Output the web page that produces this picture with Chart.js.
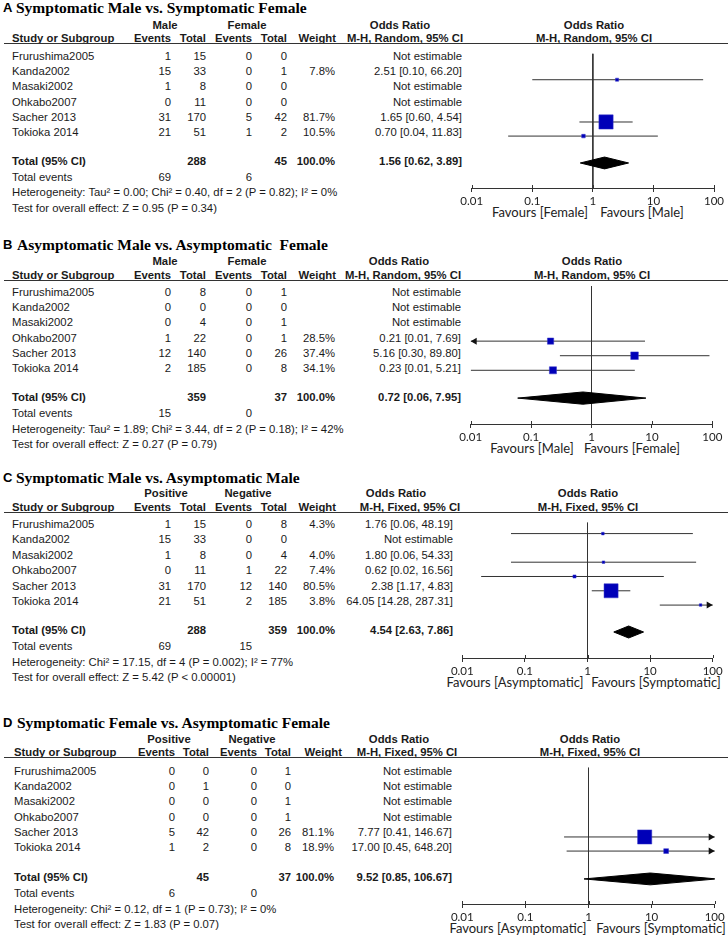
<!DOCTYPE html>
<html>
<head>
<meta charset="utf-8">
<script src="https://cdn.jsdelivr.net/npm/chart.js@4.4.0/dist/chart.umd.min.js"></script>
<style>
  body { margin: 0; background: #fff; }
  #page { position: relative; width: 728px; height: 938px; overflow: hidden;
          font-family: "Liberation Sans", Arial, sans-serif; font-size: 11.3px; color: #1a1a1a; }
  .t { position: absolute; white-space: pre; line-height: 14px; }
  .b { font-weight: bold; }
  .title { font-family: "Liberation Serif", serif; font-weight: bold; font-size: 15.5px; color: #000; line-height: 18px; }
  .letter { font-weight: bold; font-size: 13px; color: #000; }
  .fav { font-family: Lato, sans-serif; font-size: 13px; color: #222; }
  .hline { position: absolute; height: 1px; background: #333; }
  canvas { position: absolute; }
</style>
</head>
<body>
<div id="page"></div>
<script>
// ---- data ----
const studies = ['Frurushima2005', 'Kanda2002', 'Masaki2002', 'Ohkabo2007', 'Sacher 2013', 'Tokioka 2014'];
const tickValues = [0.01, 0.1, 1, 10, 100];
const tickLabels = ['0.01', '0.1', '1', '10', '100'];

// A: symptomatic male vs symptomatic female
const eventsA1 = [1, 15, 1, 0, 31, 21];
const totalA1  = [15, 33, 8, 11, 170, 51];
const eventsA2 = [0, 0, 0, 0, 5, 1];
const totalA2  = [0, 1, 0, 0, 42, 2];
const weightA  = [null, 7.8, null, null, 81.7, 10.5];
const orA      = [null, 2.51, null, null, 1.65, 0.70];
const loA      = [null, 0.10, null, null, 0.60, 0.04];
const hiA      = [null, 66.20, null, null, 4.54, 11.83];
const arrowsA  = [null, null, null, null, null, null];
const pooledA  = [1.56, 0.62, 3.89];

// B: asymptomatic male vs asymptomatic female
const eventsB1 = [0, 0, 0, 1, 12, 2];
const totalB1  = [8, 0, 4, 22, 140, 185];
const eventsB2 = [0, 0, 0, 0, 0, 0];
const totalB2  = [1, 0, 1, 1, 26, 8];
const weightB  = [null, null, null, 28.5, 37.4, 34.1];
const orB      = [null, null, null, 0.21, 5.16, 0.23];
const loB      = [null, null, null, 0.01, 0.30, 0.01];
const hiB      = [null, null, null, 7.69, 89.80, 5.21];
const arrowsB  = [null, null, null, 'left', null, null];
const pooledB  = [0.72, 0.06, 7.95];

// C: symptomatic male vs asymptomatic male
const eventsC1 = [1, 15, 1, 0, 31, 21];
const totalC1  = [15, 33, 8, 11, 170, 51];
const eventsC2 = [0, 0, 0, 1, 12, 2];
const totalC2  = [8, 0, 4, 22, 140, 185];
const weightC  = [4.3, null, 4.0, 7.4, 80.5, 3.8];
const orC      = [1.76, null, 1.80, 0.62, 2.38, 64.05];
const loC      = [0.06, null, 0.06, 0.02, 1.17, 14.28];
const hiC      = [48.19, null, 54.33, 16.56, 4.83, 287.31];
const arrowsC  = [null, null, null, null, null, 'right'];
const pooledC  = [4.54, 2.63, 7.86];

// D: symptomatic female vs asymptomatic female
const eventsD1 = [0, 0, 0, 0, 5, 1];
const totalD1  = [0, 1, 0, 0, 42, 2];
const eventsD2 = [0, 0, 0, 0, 0, 0];
const totalD2  = [1, 0, 1, 1, 26, 8];
const weightD  = [null, null, null, null, 81.1, 18.9];
const orD      = [null, null, null, null, 7.77, 17.00];
const loD      = [null, null, null, null, 0.41, 0.45];
const hiD      = [null, null, null, null, 146.67, 648.20];
const arrowsD  = [null, null, null, null, 'right', 'right'];
const pooledD  = [9.52, 0.85, 106.67];

const panels = [
  { letter: 'A', title: 'Symptomatic Male vs. Symptomatic Female', groups: ['Male', 'Female'],
    method: 'M-H, Random, 95% CI', favours: ['Favours [Female]', 'Favours [Male]'],
    ev1: eventsA1, tot1: totalA1, ev2: eventsA2, tot2: totalA2, w: weightA, or: orA, lo: loA, hi: hiA, arrows: arrowsA, pooled: pooledA,
    het: 'Heterogeneity: Tau² = 0.00; Chi² = 0.40, df = 2 (P = 0.82); I² = 0%',
    test: 'Test for overall effect: Z = 0.95 (P = 0.34)',
    g: { titleY: 8, groupY: 25, headY: 38, lineY: 43, row0: 56, step: 15.2, totalY: 161, evY: 177, hetY: 192, testY: 208,
         axisY: 188, x001: 471.7, x100: 714, cols: [12, 171, 206, 252, 287, 335], wHdr: 336, groupX: [165, 247],
         orRight: 462, orHdr: [400, 405], rHdr: 594, fav: [540, 642], titleX: 16 } },
  { letter: 'B', title: 'Asymptomatic Male vs. Asymptomatic  Female', groups: ['Male', 'Female'],
    method: 'M-H, Random, 95% CI', favours: ['Favours [Male]', 'Favours [Female]'],
    ev1: eventsB1, tot1: totalB1, ev2: eventsB2, tot2: totalB2, w: weightB, or: orB, lo: loB, hi: hiB, arrows: arrowsB, pooled: pooledB,
    het: 'Heterogeneity: Tau² = 1.89; Chi² = 3.44, df = 2 (P = 0.18); I² = 42%',
    test: 'Test for overall effect: Z = 0.27 (P = 0.79)',
    g: { titleY: 245, groupY: 261, headY: 275, lineY: 280, row0: 292, step: 15.2, totalY: 397, evY: 413, hetY: 429, testY: 444,
         axisY: 424, x001: 470.7, x100: 712.3, cols: [12, 171, 206, 252, 287, 335], wHdr: 336, groupX: [165, 247],
         orRight: 461, orHdr: [399, 403], rHdr: 592, fav: [532, 632], titleX: 17 } },
  { letter: 'C', title: 'Symptomatic Male vs. Asymptomatic Male', groups: ['Positive', 'Negative'],
    method: 'M-H, Fixed, 95% CI', favours: ['Favours [Asymptomatic]', 'Favours [Symptomatic]'],
    ev1: eventsC1, tot1: totalC1, ev2: eventsC2, tot2: totalC2, w: weightC, or: orC, lo: loC, hi: hiC, arrows: arrowsC, pooled: pooledC,
    het: 'Heterogeneity: Chi² = 17.15, df = 4 (P = 0.002); I² = 77%',
    test: 'Test for overall effect: Z = 5.42 (P < 0.00001)',
    g: { titleY: 478, groupY: 493, headY: 507, lineY: 512, row0: 524, step: 15.4, totalY: 630, evY: 646, hetY: 662, testY: 677,
         axisY: 658, x001: 462.3, x100: 712.7, cols: [12, 171, 206, 252, 287, 335], wHdr: 336, groupX: [166, 248],
         orRight: 453, orHdr: [396, 410], rHdr: 588, fav: [515, 656], titleX: 16 } },
  { letter: 'D', title: 'Symptomatic Female vs. Asymptomatic Female', groups: ['Positive', 'Negative'],
    method: 'M-H, Fixed, 95% CI', favours: ['Favours [Asymptomatic]', 'Favours [Symptomatic]'],
    ev1: eventsD1, tot1: totalD1, ev2: eventsD2, tot2: totalD2, w: weightD, or: orD, lo: loD, hi: hiD, arrows: arrowsD, pooled: pooledD,
    het: 'Heterogeneity: Chi² = 0.12, df = 1 (P = 0.73); I² = 0%',
    test: 'Test for overall effect: Z = 1.83 (P = 0.07)',
    g: { titleY: 723, groupY: 739, headY: 752, lineY: 757, row0: 771, step: 15.2, totalY: 877, evY: 893, hetY: 909, testY: 924,
         axisY: 904, x001: 462.3, x100: 714.7, cols: [14, 175, 209, 257, 291, 334], wHdr: 342, groupX: [169, 252],
         orRight: 452, orHdr: [399, 407], rHdr: 590, fav: [518, 661], titleX: 17 } }
];

// ---- helpers ----
const page = document.getElementById('page');
const f2 = v => v.toFixed(2);
const sum = a => a.reduce((s, v) => s + v, 0);

function txt(x, y, s, align, cls) {
  const d = document.createElement('div');
  d.className = 't ' + (cls || '');
  d.textContent = s;
  d.style.left = x + 'px';
  d.style.top = y + 'px';
  const tx = align === 'r' ? '-100%' : align === 'c' ? '-50%' : '0';
  d.style.transform = `translate(${tx},-50%)`;
  page.appendChild(d);
  return d;
}

// arrow heads for clipped CIs + small tick stubs above the axis
const forestExtras = {
  id: 'forestExtras',
  afterDatasetsDraw(chart, args, opts) {
    const { ctx, chartArea } = chart;
    const x = chart.scales.x, y = chart.scales.y;
    ctx.save();
    ctx.fillStyle = '#111';
    (opts.arrows || []).forEach((dir, i) => {
      if (!dir) return;
      const py = y.getPixelForValue(i + 1);
      const px = dir === 'right' ? chartArea.right : chartArea.left;
      const s = dir === 'right' ? -1 : 1;
      ctx.beginPath();
      ctx.moveTo(px, py);
      ctx.lineTo(px + s * 6, py - 3.5);
      ctx.lineTo(px + s * 6, py + 3.5);
      ctx.closePath();
      ctx.fill();
    });
    ctx.strokeStyle = '#333';
    ctx.lineWidth = 1;
    x.ticks.forEach(t => {
      const px = Math.round(x.getPixelForValue(t.value)) + 0.5;
      ctx.beginPath();
      ctx.moveTo(px, chartArea.bottom - 3);
      ctx.lineTo(px, chartArea.bottom);
      ctx.stroke();
    });
    ctx.restore();
  }
};

function drawPanel(p) {
  const g = p.g, c = g.cols;
  txt(3, g.titleY, p.letter, 'l', 'letter');
  txt(g.titleX, g.titleY, p.title, 'l', 'title');

  txt(g.groupX[0], g.groupY, p.groups[0], 'c', 'b');
  txt(g.groupX[1], g.groupY, p.groups[1], 'c', 'b');
  txt(g.orHdr[0], g.groupY, 'Odds Ratio', 'c', 'b');
  txt(g.rHdr, g.groupY, 'Odds Ratio', 'c', 'b');

  txt(c[0], g.headY, 'Study or Subgroup', 'l', 'b');
  txt(c[1], g.headY, 'Events', 'r', 'b');
  txt(c[2], g.headY, 'Total', 'r', 'b');
  txt(c[3], g.headY, 'Events', 'r', 'b');
  txt(c[4], g.headY, 'Total', 'r', 'b');
  txt(g.wHdr, g.headY, 'Weight', 'r', 'b');
  txt(g.orHdr[1], g.headY, p.method, 'c', 'b');
  txt(g.rHdr, g.headY, p.method, 'c', 'b');

  const hl = document.createElement('div');
  hl.className = 'hline';
  hl.style.left = '4px'; hl.style.width = '724px'; hl.style.top = g.lineY + 'px';
  page.appendChild(hl);

  studies.forEach((s, i) => {
    const y = g.row0 + i * g.step;
    txt(c[0], y, s, 'l');
    txt(c[1], y, String(p.ev1[i]), 'r');
    txt(c[2], y, String(p.tot1[i]), 'r');
    txt(c[3], y, String(p.ev2[i]), 'r');
    txt(c[4], y, String(p.tot2[i]), 'r');
    if (p.w[i] != null) txt(c[5], y, p.w[i].toFixed(1) + '%', 'r');
    const or = p.or[i] == null ? 'Not estimable' : `${f2(p.or[i])} [${f2(p.lo[i])}, ${f2(p.hi[i])}]`;
    txt(g.orRight, y, or, 'r');
  });

  txt(c[0], g.totalY, 'Total (95% CI)', 'l', 'b');
  txt(c[2], g.totalY, String(sum(p.tot1)), 'r', 'b');
  txt(c[4], g.totalY, String(sum(p.tot2)), 'r', 'b');
  txt(c[5], g.totalY, '100.0%', 'r', 'b');
  txt(g.orRight, g.totalY, `${f2(p.pooled[0])} [${f2(p.pooled[1])}, ${f2(p.pooled[2])}]`, 'r', 'b');
  txt(c[0], g.evY, 'Total events', 'l');
  txt(c[1], g.evY, String(sum(p.ev1)), 'r');
  txt(c[3], g.evY, String(sum(p.ev2)), 'r');
  txt(c[0], g.hetY, p.het, 'l');
  txt(c[0], g.testY, p.test, 'l');

  txt(g.fav[0], g.axisY + 24, p.favours[0], 'c', 'fav');
  txt(g.fav[1], g.axisY + 24, p.favours[1], 'c', 'fav');

  // forest plot
  const canvasLeft = 440, axisH = 36;
  const plotH = g.axisY - g.lineY;
  const cv = document.createElement('canvas');
  cv.width = 288; cv.height = plotH + axisH;
  cv.style.left = canvasLeft + 'px'; cv.style.top = g.lineY + 'px';
  page.appendChild(cv);

  const yMin = 1 - (g.row0 - g.lineY) / g.step;
  const yMax = yMin + plotH / g.step;
  const totalRow = 1 + (g.totalY - g.row0) / g.step;

  const datasets = [];
  // squares on top
  datasets.push({
    type: 'scatter', order: 0,
    data: p.or.map((v, i) => v == null ? null : { x: v, y: i + 1 }).filter(d => d),
    pointStyle: 'rect',
    pointRadius: p.w.filter((v, i) => p.or[i] != null).map(w => (2 + 0.15 * w) / Math.SQRT2),
    pointBackgroundColor: '#0000b8', pointBorderColor: '#3535c8', pointBorderWidth: 0.5
  });
  p.or.forEach((v, i) => {
    if (v == null) return;
    datasets.push({
      type: 'line', order: 1,
      data: [{ x: p.lo[i], y: i + 1 }, { x: p.hi[i], y: i + 1 }],
      borderColor: '#333', borderWidth: 1, pointRadius: 0, fill: false
    });
  });
  const [est, plo, phi] = p.pooled;
  const h = 0.42;
  datasets.push({
    type: 'line', order: 2,
    data: [{ x: plo, y: totalRow }, { x: est, y: totalRow - h }, { x: phi, y: totalRow }, { x: est, y: totalRow + h }, { x: plo, y: totalRow }],
    borderColor: '#000', backgroundColor: '#000', borderWidth: 1, pointRadius: 0, fill: 'shape', tension: 0
  });
  datasets.push({
    type: 'line', order: 3,
    data: [{ x: 1, y: yMin }, { x: 1, y: yMax }],
    borderColor: '#333', borderWidth: 1, pointRadius: 0, fill: false
  });

  new Chart(cv, {
    type: 'scatter',
    data: { datasets },
    options: {
      responsive: false, animation: false, devicePixelRatio: 1, events: [],
      layout: { padding: { left: g.x001 - canvasLeft, right: 728 - g.x100, top: 0, bottom: 0 } },
      plugins: { legend: { display: false }, tooltip: { enabled: false }, forestExtras: { arrows: p.arrows } },
      scales: {
        x: {
          type: 'logarithmic', min: tickValues[0], max: tickValues[tickValues.length - 1],
          afterBuildTicks: sc => { sc.ticks = tickValues.map(v => ({ value: v })); },
          afterFit: sc => { sc.height = axisH; },
          ticks: {
            autoSkip: false, maxRotation: 0, padding: 2, color: '#222',
            font: { family: 'Lato', size: 11.5 },
            callback: (v, i) => tickLabels[i]
          },
          grid: { drawOnChartArea: false, drawTicks: true, tickLength: 4, color: '#333' },
          border: { display: true, color: '#333', width: 1 }
        },
        y: { type: 'linear', display: false, reverse: true, min: yMin, max: yMax }
      }
    },
    plugins: [forestExtras]
  });
}

panels.forEach(drawPanel);
</script>
</body>
</html>
